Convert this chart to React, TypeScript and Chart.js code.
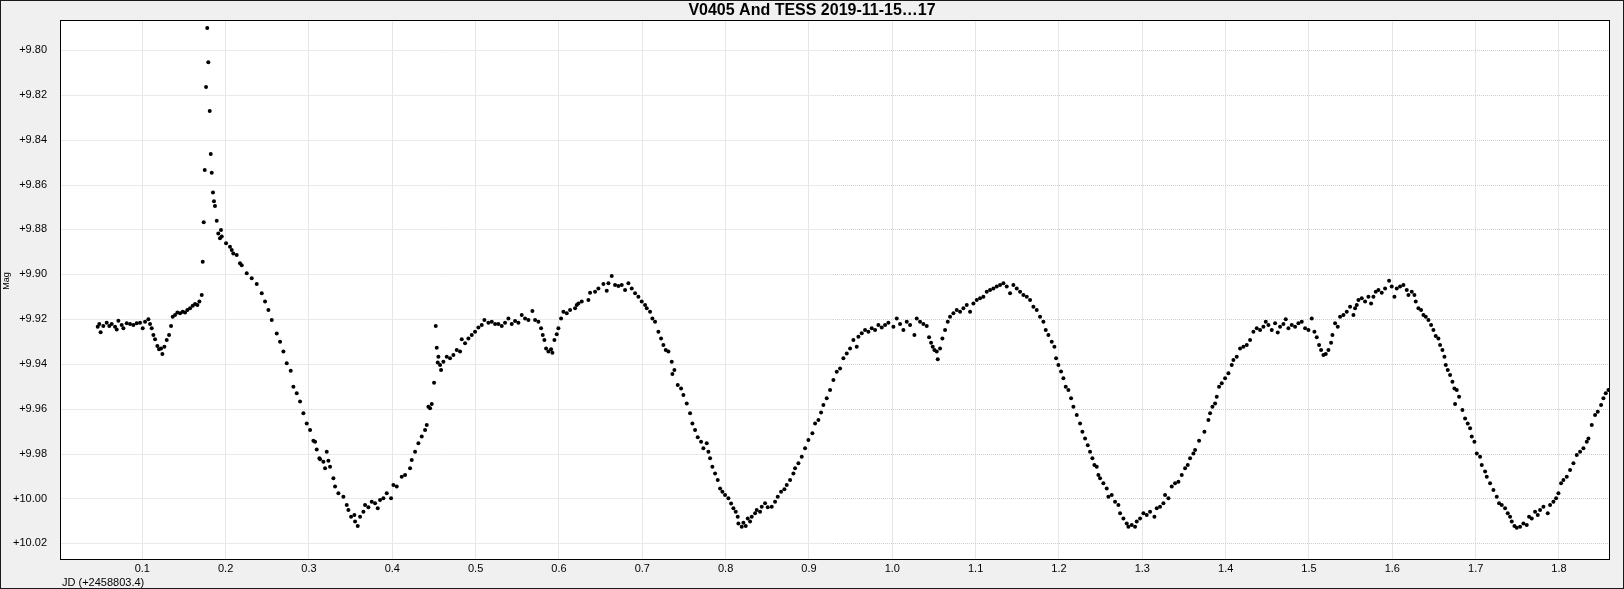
import React, { useEffect, useRef } from 'react';
import { Chart, registerables } from 'chart.js';

Chart.register(...registerables);

const TITLE = 'V0405 And TESS 2019-11-15\u202617';
const X_LABEL = 'JD (+2458803.4)';
const Y_LABEL = 'Mag';

const X_MIN = 0.00124;
const X_MAX = 1.86;
const Y_MIN = 9.78662;
const Y_MAX = 10.02698;
const X_STEP = 0.1;
const Y_STEP = 0.02;

// [JD - 2458803.4, magnitude]
const preFlare: [number, number][] = [
  [0.0465, 9.9234], [0.0484, 9.9222], [0.05, 9.9259], [0.0532, 9.9231], [0.0573, 9.9216],
  [0.0604, 9.9231], [0.0633, 9.9222], [0.0673, 9.9234], [0.0693, 9.9246], [0.0713, 9.9207],
  [0.0753, 9.9226], [0.0773, 9.9241], [0.0813, 9.9219], [0.0853, 9.9222], [0.0893, 9.9226],
  [0.0933, 9.9219], [0.0973, 9.9216], [0.1005, 9.9241], [0.1033, 9.9212], [0.1073, 9.9201],
  [0.1093, 9.9222], [0.1113, 9.9241], [0.1133, 9.9271], [0.1153, 9.929], [0.1181, 9.932],
  [0.1201, 9.9335], [0.1225, 9.9331], [0.1241, 9.9356], [0.1265, 9.9323], [0.1293, 9.9293],
  [0.1321, 9.9271], [0.1345, 9.9231], [0.1365, 9.9189], [0.1393, 9.9182], [0.1421, 9.9171],
  [0.1453, 9.9174], [0.1485, 9.9167], [0.1513, 9.9171], [0.1541, 9.9159], [0.1573, 9.9152],
  [0.1605, 9.9141], [0.1633, 9.9133], [0.1661, 9.9137], [0.1685, 9.9122], [0.1713, 9.9093],
];

const flare: [number, number][] = [
  [0.1725, 9.8944], [0.1737, 9.8768], [0.1749, 9.8535], [0.1765, 9.8165], [0.1779, 9.7902],
  [0.1792, 9.8055], [0.1809, 9.8272], [0.1821, 9.8464], [0.1833, 9.8547], [0.1848, 9.8635],
  [0.186, 9.8675], [0.1872, 9.8696], [0.1893, 9.8761], [0.1912, 9.8818], [0.1932, 9.884],
  [0.1944, 9.8803], [0.1953, 9.8832], [0.2005, 9.8862], [0.2052, 9.8877], [0.2073, 9.8892],
  [0.2092, 9.8907], [0.2133, 9.8914], [0.2172, 9.8951], [0.2193, 9.896], [0.2253, 9.8996],
  [0.2313, 9.9018], [0.2373, 9.9044], [0.2433, 9.9085], [0.2473, 9.9122], [0.2513, 9.9159],
  [0.2553, 9.9204], [0.2613, 9.9264], [0.2653, 9.9301], [0.2693, 9.9345], [0.2733, 9.9397],
  [0.2781, 9.943], [0.2813, 9.9502], [0.2853, 9.9531], [0.2893, 9.9568], [0.2933, 9.962],
  [0.2973, 9.9665], [0.3013, 9.9695], [0.3053, 9.9742], [0.3073, 9.9747], [0.3093, 9.9781],
  [0.3125, 9.9821], [0.3133, 9.9825], [0.3173, 9.9836], [0.3193, 9.9865], [0.3213, 9.9791],
  [0.3233, 9.9832], [0.3253, 9.9858], [0.3293, 9.991], [0.3313, 9.9947], [0.3353, 9.9977],
  [0.3413, 9.9992], [0.3453, 10.0029], [0.3473, 10.0051], [0.3505, 10.0081], [0.3545, 10.0074],
  [0.3553, 10.0103], [0.3585, 10.0123], [0.3613, 10.0081], [0.3653, 10.0059], [0.3673, 10.0029],
  [0.3713, 10.0039], [0.3753, 10.0014], [0.3793, 10.0021], [0.3825, 10.0044], [0.3853, 10.0007],
  [0.3893, 9.9999], [0.3933, 9.9977], [0.3985, 9.9999], [0.4013, 9.994], [0.4053, 9.9947],
  [0.4113, 9.9903], [0.4153, 9.9895], [0.4213, 9.9865], [0.4233, 9.9828], [0.4273, 9.9791],
  [0.4313, 9.9754], [0.4353, 9.9724], [0.4393, 9.9695], [0.4413, 9.9672], [0.4433, 9.9591],
  [0.4453, 9.9598], [0.4473, 9.9579], [0.4501, 9.9484],
];

const cycle1: [number, number][] = [
  [0.4521, 9.9231], [0.4533, 9.9328], [0.4545, 9.9394], [0.4553, 9.9368], [0.4573, 9.9405],
  [0.4585, 9.9427], [0.4613, 9.939], [0.4653, 9.9368], [0.4693, 9.9375], [0.4733, 9.936],
  [0.4773, 9.9338], [0.4813, 9.9345], [0.4833, 9.929], [0.4873, 9.9308], [0.4913, 9.9286],
  [0.4953, 9.9271], [0.4993, 9.9256], [0.5033, 9.9237], [0.5073, 9.9226], [0.5105, 9.9204],
  [0.5153, 9.9216], [0.5193, 9.9212], [0.5233, 9.9222], [0.5273, 9.9222], [0.5313, 9.9231],
  [0.5353, 9.9216], [0.5393, 9.9197], [0.5433, 9.9222], [0.5473, 9.9208], [0.5513, 9.9216],
  [0.5553, 9.9182], [0.5593, 9.9197], [0.5633, 9.9204], [0.5681, 9.9164], [0.5713, 9.9204],
  [0.5753, 9.9212], [0.5785, 9.9241], [0.5805, 9.9271], [0.5825, 9.9293], [0.5845, 9.9331],
  [0.5873, 9.9345], [0.5905, 9.9335], [0.5921, 9.935], [0.5945, 9.9293], [0.5973, 9.9267],
  [0.5993, 9.9241], [0.6025, 9.9197], [0.6053, 9.9167], [0.6093, 9.9174], [0.6133, 9.9159],
  [0.6193, 9.9152], [0.6213, 9.9137], [0.6233, 9.913], [0.6273, 9.9122], [0.6353, 9.9115],
  [0.6373, 9.9082], [0.6433, 9.9078], [0.6473, 9.9063], [0.6533, 9.9044], [0.6573, 9.9074],
  [0.6593, 9.904], [0.6633, 9.9008], [0.6673, 9.9048], [0.6713, 9.9052], [0.6753, 9.9048],
  [0.6793, 9.907], [0.6833, 9.904], [0.6873, 9.9063], [0.6913, 9.9085], [0.6953, 9.91],
  [0.6993, 9.9122], [0.7033, 9.9137], [0.7053, 9.9152], [0.7093, 9.9167], [0.7121, 9.9197],
  [0.7153, 9.9212], [0.7193, 9.9256], [0.7225, 9.9286], [0.7253, 9.9316], [0.7281, 9.9338],
  [0.7313, 9.9345], [0.7353, 9.939], [0.7361, 9.9445], [0.7385, 9.9427], [0.7425, 9.9494],
  [0.7465, 9.9509], [0.7493, 9.9539], [0.7533, 9.9576], [0.7573, 9.962], [0.7601, 9.9665],
  [0.7633, 9.9695], [0.7665, 9.9727], [0.7705, 9.9747], [0.7733, 9.9776], [0.7773, 9.9754],
  [0.7793, 9.9791], [0.7813, 9.9821], [0.7841, 9.9858], [0.7873, 9.9888], [0.7905, 9.9918],
  [0.7933, 9.9955], [0.7961, 9.997], [0.7993, 9.9984], [0.8033, 9.9999], [0.8065, 10.0022],
  [0.8093, 10.0044], [0.8121, 10.0059], [0.8145, 10.0081], [0.8153, 10.0111], [0.8193, 10.0126],
  [0.8213, 10.0108], [0.8241, 10.0123], [0.8265, 10.0089], [0.8293, 10.0103], [0.8313, 10.0081],
  [0.8353, 10.0066], [0.8373, 10.0051], [0.8413, 10.0059], [0.8433, 10.0037], [0.8473, 10.0021],
  [0.8505, 10.0039], [0.8553, 10.0037], [0.8593, 10.0014], [0.8625, 9.9992], [0.8665, 9.997],
  [0.8705, 9.9959], [0.8733, 9.994], [0.8773, 9.9918], [0.8813, 9.9888], [0.8833, 9.9865],
  [0.8873, 9.9843], [0.8913, 9.9814], [0.8953, 9.9776], [0.8993, 9.9739], [0.9041, 9.9709],
  [0.9073, 9.9665], [0.9113, 9.965], [0.9145, 9.9617], [0.9173, 9.9583], [0.9213, 9.9553],
  [0.9253, 9.9516], [0.9293, 9.9472], [0.9333, 9.9435],
];

const cycle2: [number, number][] = [
  [0.9373, 9.942], [0.9413, 9.9375], [0.9453, 9.9353], [0.9493, 9.9331], [0.9533, 9.9293],
  [0.9573, 9.9323], [0.9593, 9.9279], [0.9633, 9.9263], [0.9673, 9.9249], [0.9713, 9.9256],
  [0.9753, 9.9241], [0.9793, 9.9249], [0.9833, 9.9226], [0.9873, 9.9237], [0.9913, 9.9226],
  [0.9953, 9.9216], [1.0013, 9.9234], [1.0053, 9.9197], [1.0093, 9.9222], [1.0133, 9.9249],
  [1.0173, 9.9212], [1.0213, 9.9226], [1.0265, 9.9271], [1.0293, 9.9197], [1.0333, 9.9212],
  [1.0373, 9.9222], [1.0413, 9.9231], [1.0441, 9.9281], [1.0465, 9.9305], [1.0485, 9.9323],
  [1.0505, 9.9338], [1.0533, 9.9345], [1.0545, 9.9379], [1.0573, 9.9331], [1.0601, 9.9286],
  [1.0633, 9.9249], [1.0665, 9.9212], [1.0693, 9.9189], [1.0733, 9.9174], [1.0773, 9.9159],
  [1.0813, 9.9167], [1.0853, 9.9152], [1.0893, 9.9137], [1.0933, 9.9167], [1.0973, 9.913],
  [1.1013, 9.9115], [1.1053, 9.9107], [1.1093, 9.91], [1.1133, 9.9078], [1.1173, 9.907],
  [1.1213, 9.9063], [1.1253, 9.9055], [1.1293, 9.9048], [1.1333, 9.904], [1.1373, 9.9055],
  [1.1413, 9.9085], [1.1453, 9.9048], [1.1493, 9.9063], [1.1533, 9.9078], [1.1573, 9.9093],
  [1.1613, 9.91], [1.1653, 9.9115], [1.1693, 9.9145], [1.1733, 9.9159], [1.1773, 9.9189],
  [1.1813, 9.9212], [1.1841, 9.9249], [1.1873, 9.9271], [1.1913, 9.9301], [1.1945, 9.9323],
  [1.1965, 9.9375], [1.1993, 9.9405], [1.2025, 9.9434], [1.2053, 9.9464], [1.2081, 9.9502],
  [1.2113, 9.9516], [1.2145, 9.9553], [1.2173, 9.9591], [1.2213, 9.9628], [1.2253, 9.9665],
  [1.2281, 9.9702], [1.2313, 9.9732], [1.2345, 9.9762], [1.2373, 9.9791], [1.2401, 9.9821],
  [1.2425, 9.9851], [1.2453, 9.9858], [1.2473, 9.9895], [1.2493, 9.991], [1.2533, 9.9932],
  [1.2573, 9.9955], [1.2593, 9.9992], [1.2633, 9.9984], [1.2673, 10.0014], [1.2713, 10.0029],
  [1.2733, 10.0066], [1.2773, 10.0089], [1.2813, 10.0111], [1.2833, 10.0126], [1.2873, 10.0118],
  [1.2913, 10.0126], [1.2933, 10.0103], [1.2973, 10.0089], [1.3013, 10.0066], [1.3053, 10.0074],
  [1.3093, 10.0059], [1.3145, 10.0081], [1.3173, 10.0044], [1.3213, 10.0037], [1.3253, 10.0021],
  [1.3273, 9.9984], [1.3313, 9.9999], [1.3353, 9.9947], [1.3393, 9.9932], [1.3433, 9.9925],
  [1.3473, 9.9895], [1.3513, 9.9865], [1.3545, 9.9851], [1.3573, 9.9821], [1.3613, 9.9799],
  [1.3633, 9.9784], [1.3681, 9.9742], [1.3745, 9.9702], [1.3793, 9.965], [1.3813, 9.962],
  [1.3841, 9.9591], [1.3873, 9.9576], [1.3893, 9.9546], [1.3921, 9.9502], [1.3953, 9.9486],
  [1.3993, 9.9464], [1.4033, 9.9442], [1.4073, 9.9405], [1.4093, 9.9382],
];

const cycle3: [number, number][] = [
  [1.4133, 9.9368], [1.4173, 9.9331], [1.4213, 9.9323], [1.4253, 9.9316], [1.4293, 9.9293],
  [1.4333, 9.9256], [1.4373, 9.9241], [1.4413, 9.9249], [1.4453, 9.9234], [1.4481, 9.9212],
  [1.4513, 9.9226], [1.4553, 9.9249], [1.4593, 9.9219], [1.4625, 9.926], [1.4653, 9.9234],
  [1.4693, 9.9222], [1.4721, 9.9201], [1.4753, 9.9241], [1.4793, 9.9226], [1.4833, 9.9234],
  [1.4873, 9.9219], [1.4913, 9.9212], [1.4953, 9.9241], [1.4993, 9.9249], [1.5033, 9.9197],
  [1.5065, 9.9256], [1.5093, 9.9281], [1.5121, 9.9316], [1.5145, 9.9338], [1.5173, 9.936],
  [1.5201, 9.9356], [1.5233, 9.9338], [1.5265, 9.9305], [1.5281, 9.9271], [1.5313, 9.9219],
  [1.5345, 9.9234], [1.5373, 9.9189], [1.5413, 9.9182], [1.5453, 9.9167], [1.5493, 9.9145],
  [1.5533, 9.9182], [1.5553, 9.9152], [1.5573, 9.9137], [1.5593, 9.9115], [1.5633, 9.9107],
  [1.5673, 9.9122], [1.5713, 9.91], [1.5745, 9.913], [1.5773, 9.91], [1.5801, 9.9078],
  [1.5833, 9.907], [1.5873, 9.9082], [1.5913, 9.9063], [1.5961, 9.9029], [1.5993, 9.9055],
  [1.6025, 9.91], [1.6053, 9.9063], [1.6093, 9.9055], [1.6133, 9.9048], [1.6173, 9.907],
  [1.6193, 9.9093], [1.6233, 9.9078], [1.6265, 9.9093], [1.6281, 9.9122], [1.6313, 9.9152],
  [1.6345, 9.9159], [1.6373, 9.9182], [1.6401, 9.9189], [1.6433, 9.9204], [1.6465, 9.9226],
  [1.6493, 9.9249], [1.6521, 9.9275], [1.6553, 9.9286], [1.6573, 9.9316], [1.6601, 9.9338],
  [1.6625, 9.9368], [1.6641, 9.9405], [1.6665, 9.9427], [1.6693, 9.9449], [1.6721, 9.9479],
  [1.6745, 9.9509], [1.6753, 9.9579], [1.6773, 9.9516], [1.6801, 9.9546], [1.6841, 9.9605],
  [1.6873, 9.9643], [1.6905, 9.9665], [1.6933, 9.9687], [1.6953, 9.9724], [1.6985, 9.9747],
  [1.7013, 9.9799], [1.7053, 9.9814], [1.7073, 9.9851], [1.7113, 9.988], [1.7133, 9.9903],
  [1.7173, 9.9932], [1.7213, 9.9962], [1.7253, 9.9992], [1.7281, 10.0021], [1.7313, 10.0029],
  [1.7353, 10.0044], [1.7385, 10.0066], [1.7413, 10.0081], [1.7433, 10.0103], [1.7465, 10.0123],
  [1.7493, 10.013], [1.7533, 10.0126], [1.7573, 10.0111], [1.7613, 10.0118], [1.7641, 10.0081],
  [1.7673, 10.0089], [1.7713, 10.0059], [1.7745, 10.0074], [1.7773, 10.0051], [1.7813, 10.0037],
  [1.7865, 10.0066], [1.7893, 10.0029], [1.7933, 10.0014], [1.7965, 9.9999], [1.7993, 9.9977],
  [1.8025, 9.9932], [1.8053, 9.9918], [1.8093, 9.9903], [1.8133, 9.9873], [1.8173, 9.9843],
  [1.8213, 9.9806], [1.8253, 9.9791], [1.8293, 9.9776], [1.8333, 9.9747], [1.8353, 9.9732],
  [1.8393, 9.9672], [1.8433, 9.9628], [1.8465, 9.9613], [1.8505, 9.9583], [1.8533, 9.9553],
  [1.8561, 9.9531], [1.8593, 9.9516],
];

const FONT = "'Liberation Sans', Arial, sans-serif";
const HGRID_SPLIT = 0.929; // horizontal grid turns dotted right of this JD value

const framePlugin = {
  id: 'frame',
  beforeDraw(chart: any) {
    const { ctx, chartArea: a, width, height } = chart;
    ctx.save();
    ctx.fillStyle = '#f0f0f0';
    ctx.fillRect(0, 0, width, height);
    ctx.fillStyle = '#ffffff';
    ctx.fillRect(a.left, a.top, a.right - a.left, a.bottom - a.top);
    ctx.restore();
  },
  beforeDatasetsDraw(chart: any) {
    const { ctx, chartArea: a, scales } = chart;
    const ys = scales.y;
    const split = Math.round(scales.x.getPixelForValue(HGRID_SPLIT));
    ctx.save();
    ctx.lineWidth = 1;
    ys.ticks.forEach((t: any) => {
      const py = Math.round(ys.getPixelForValue(t.value)) + 0.5;
      ctx.setLineDash([]);
      ctx.strokeStyle = '#e9e9e9';
      ctx.beginPath();
      ctx.moveTo(a.left, py);
      ctx.lineTo(split, py);
      ctx.stroke();
      ctx.setLineDash([1, 1]);
      ctx.strokeStyle = '#cfcfcf';
      ctx.beginPath();
      ctx.moveTo(split, py);
      ctx.lineTo(a.right, py);
      ctx.stroke();
    });
    ctx.restore();
  },
  afterDraw(chart: any) {
    const { ctx, chartArea: a, width, height } = chart;
    ctx.save();
    ctx.strokeStyle = '#000';
    ctx.lineWidth = 1;
    ctx.strokeRect(a.left + 0.5, a.top + 0.5, a.right - a.left, a.bottom - a.top);
    ctx.strokeStyle = '#1a1a1a';
    ctx.strokeRect(0.5, 0.5, width - 1, height - 1);

    ctx.fillStyle = '#000';
    ctx.font = `bold 16px ${FONT}`;
    ctx.textAlign = 'center';
    ctx.textBaseline = 'middle';
    ctx.fillText(TITLE, width / 2, 11);

    ctx.font = `11px ${FONT}`;
    ctx.textAlign = 'left';
    ctx.textBaseline = 'alphabetic';
    ctx.fillText(X_LABEL, 62, 586);

    ctx.translate(7, 281);
    ctx.rotate(-Math.PI / 2);
    ctx.font = `9px ${FONT}`;
    ctx.textAlign = 'center';
    ctx.textBaseline = 'middle';
    ctx.fillText(Y_LABEL, 0, 0);
    ctx.restore();
  },
};

export default function App() {
  const ref = useRef<HTMLCanvasElement>(null);

  useEffect(() => {
    document.body.style.margin = '0';
    const points = [...preFlare, ...flare, ...cycle1, ...cycle2, ...cycle3].map(([x, y]) => ({ x, y }));
    const chart = new Chart(ref.current as HTMLCanvasElement, {
      type: 'scatter',
      data: {
        datasets: [
          {
            data: points,
            pointRadius: 2,
            pointHoverRadius: 2,
            pointBackgroundColor: '#000',
            pointBorderWidth: 0,
            borderColor: '#000',
            showLine: false,
          },
        ],
      },
      plugins: [framePlugin],
      options: {
        animation: false,
        responsive: false,
        devicePixelRatio: 1,
        events: [],
        layout: { padding: { left: 0, top: 20, right: 15, bottom: 0 } },
        plugins: {
          legend: { display: false },
          title: { display: false },
          tooltip: { enabled: false },
        },
        scales: {
          x: {
            type: 'linear',
            min: X_MIN,
            max: X_MAX,
            border: { display: false },
            grid: { color: '#e6e6e6', lineWidth: 1, drawTicks: false },
            ticks: {
              stepSize: X_STEP,
              includeBounds: false,
              padding: 3,
              color: '#000',
              font: { family: FONT, size: 11 },
              maxRotation: 0,
              autoSkip: false,
              callback: (v: any) => Number(v).toFixed(1),
            },
            afterFit: (s: any) => {
              s.height = 30;
            },
          },
          y: {
            type: 'linear',
            reverse: true,
            min: Y_MIN,
            max: Y_MAX,
            border: { display: false },
            grid: { display: false, drawTicks: false },
            ticks: {
              stepSize: Y_STEP,
              includeBounds: false,
              padding: 13,
              color: '#000',
              font: { family: FONT, size: 11 },
              autoSkip: false,
              callback: (v: any) => '+' + Number(v).toFixed(2),
            },
            afterFit: (s: any) => {
              s.width = 60;
            },
          },
        },
      },
    });
    return () => chart.destroy();
  }, []);

  return (
    <div style={{ position: 'absolute', left: 0, top: 0, width: 1624, height: 589 }}>
      <canvas ref={ref} width={1624} height={589} style={{ display: 'block' }} />
    </div>
  );
}
